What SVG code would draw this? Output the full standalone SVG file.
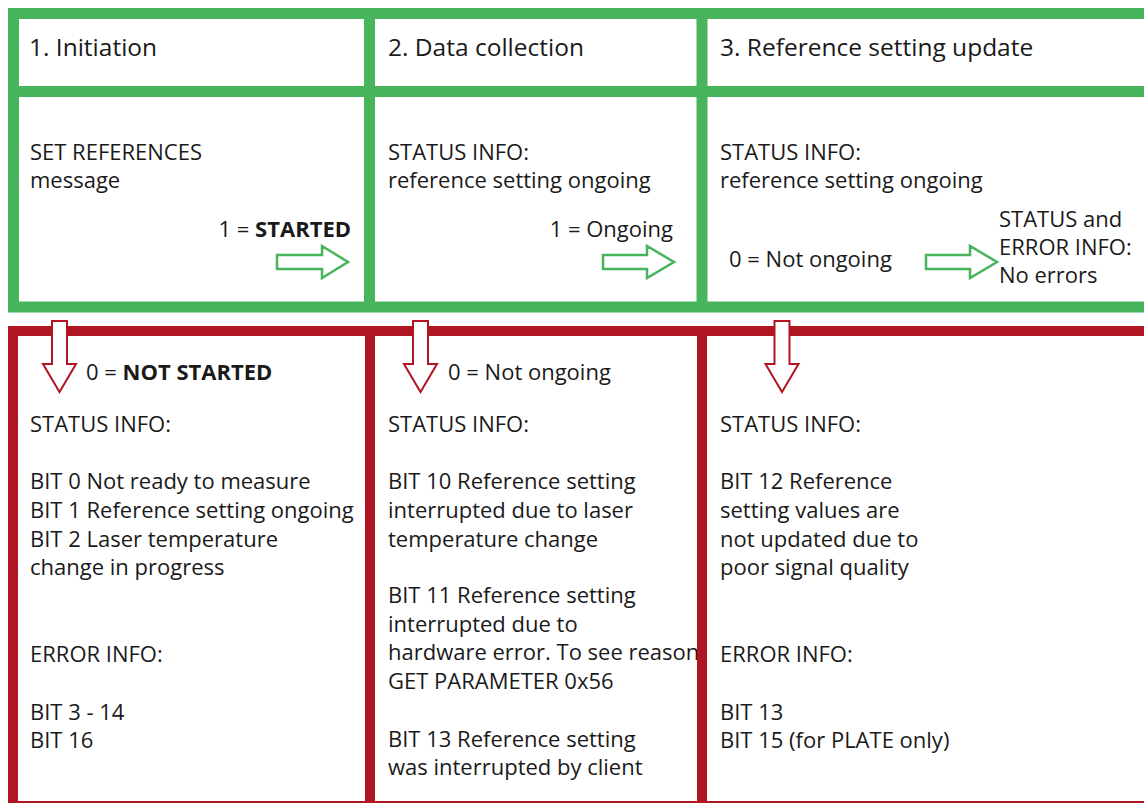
<svg xmlns="http://www.w3.org/2000/svg" width="1144" height="803" viewBox="0 0 1144 803">
  <style>
    text { font-family: "Open Sans", "Liberation Sans", sans-serif; font-size: 22px; fill: #1a1a1a; }
    .title { font-size: 24.5px; }
    .b { font-weight: bold; }
    .gframe { fill: none; stroke: #48b55d; stroke-width: 11; }
    .rframe { fill: none; stroke: #b01622; stroke-width: 10; }
    .garrow { fill: #ffffff; stroke: #48b55d; stroke-width: 2.5; stroke-linejoin: miter; }
    .rarrow { fill: #ffffff; stroke: #b01622; stroke-width: 2; stroke-linejoin: miter; }
  </style>
  <rect width="1144" height="803" fill="#ffffff"/>

  <g id="cell-initiation-title"><text class="title" x="29" y="56">1. Initiation</text></g>
  <g id="cell-data-title"><text class="title" x="388" y="56">2. Data collection</text></g>
  <g id="cell-update-title"><text class="title" x="720" y="56">3. Reference setting update</text></g>

  <g id="cell-initiation">
    <text x="30" y="160">SET REFERENCES</text>
    <text x="30" y="188">message</text>
    <text x="351" y="237" text-anchor="end">1 = <tspan class="b">STARTED</tspan></text>
  </g>
  <g id="cell-data">
    <text x="388" y="160">STATUS INFO:</text>
    <text x="388" y="188">reference setting ongoing</text>
    <text x="673" y="237" text-anchor="end">1 = Ongoing</text>
  </g>
  <g id="cell-update">
    <text x="720" y="160">STATUS INFO:</text>
    <text x="720" y="188">reference setting ongoing</text>
    <text x="729" y="267">0 = Not ongoing</text>
    <text x="999" y="227">STATUS and</text>
    <text x="999" y="255">ERROR INFO:</text>
    <text x="999" y="283">No errors</text>
  </g>

  <g id="cell-not-started">
    <text x="86" y="380">0 = <tspan class="b">NOT STARTED</tspan></text>
    <text x="30" y="432">STATUS INFO:</text>
    <text x="30" y="489">BIT 0 Not ready to measure</text>
    <text x="30" y="518">BIT 1 Reference setting ongoing</text>
    <text x="30" y="547">BIT 2 Laser temperature</text>
    <text x="30" y="575">change in progress</text>
    <text x="30" y="662">ERROR INFO:</text>
    <text x="30" y="720">BIT 3 - 14</text>
    <text x="30" y="748">BIT 16</text>
  </g>
  <g id="cell-data-not-ongoing">
    <text x="448" y="380">0 = Not ongoing</text>
    <text x="388" y="432">STATUS INFO:</text>
    <text x="388" y="489">BIT 10 Reference setting</text>
    <text x="388" y="518">interrupted due to laser</text>
    <text x="388" y="547">temperature change</text>
    <text x="388" y="603">BIT 11 Reference setting</text>
    <text x="388" y="632">interrupted due to</text>
    <text x="388" y="660">hardware error. To see reason,</text>
    <text x="388" y="689">GET PARAMETER 0x56</text>
    <text x="388" y="747">BIT 13 Reference setting</text>
    <text x="388" y="775">was interrupted by client</text>
  </g>
  <g id="cell-update-errors">
    <text x="720" y="432">STATUS INFO:</text>
    <text x="720" y="489">BIT 12 Reference</text>
    <text x="720" y="518">setting values are</text>
    <text x="720" y="547">not updated due to</text>
    <text x="720" y="575">poor signal quality</text>
    <text x="720" y="662">ERROR INFO:</text>
    <text x="720" y="720">BIT 13</text>
    <text x="720" y="748">BIT 15 (for PLATE only)</text>
  </g>

  <g id="frame-success">
    <rect class="gframe" x="13.5" y="13.5" width="1137" height="293.5"/>
    <line class="gframe" x1="13.5" y1="91.5" x2="1150.5" y2="91.5"/>
    <line class="gframe" x1="369.5" y1="13.5" x2="369.5" y2="307"/>
    <line class="gframe" x1="702" y1="13.5" x2="702" y2="307"/>
  </g>
  <g id="frame-failure">
    <rect class="rframe" x="13" y="331" width="1140" height="475"/>
    <line class="rframe" x1="370" y1="331" x2="370" y2="806"/>
    <line class="rframe" x1="702" y1="331" x2="702" y2="806"/>
  </g>

  <g id="connectors">
    <path class="garrow" d="M277 255 H322 V246 L348 262 L322 278 V269 H277 Z"/>
    <path class="garrow" d="M603 255 H647 V246 L674 262 L647 278 V269 H603 Z"/>
    <path class="garrow" d="M926 255 H970 V246 L997 262 L970 278 V269 H926 Z"/>
    <path class="rarrow" d="M52 321 H67 V364 H76 L59.5 392 L43 364 H52 Z"/>
    <path class="rarrow" d="M413 321 H428 V364 H437 L420.5 392 L404 364 H413 Z"/>
    <path class="rarrow" d="M774.5 321 H789.5 V364 H798.5 L782 392 L765.5 364 H774.5 Z"/>
  </g>
</svg>
